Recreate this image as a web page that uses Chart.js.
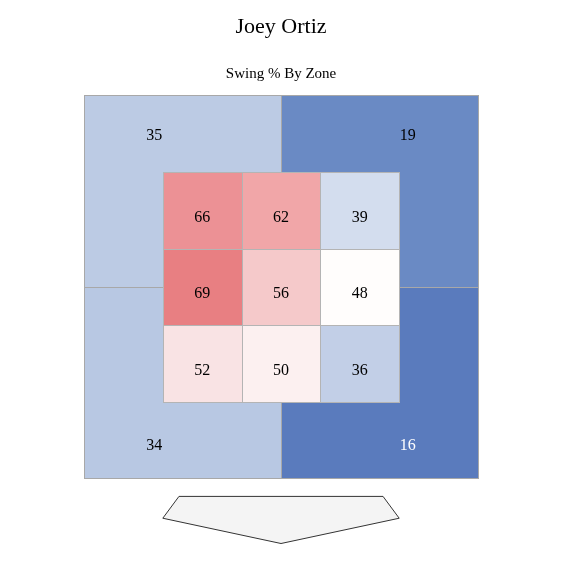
<!DOCTYPE html>
<html>
<head>
<meta charset="utf-8">
<script src="https://cdn.jsdelivr.net/npm/chart.js@4/dist/chart.umd.min.js"></script>
<style>
  html, body { margin: 0; padding: 0; background: #fff; }
  #wrap { width: 562px; height: 562px; }
</style>
</head>
<body>
<div id="wrap"><canvas id="myChart" width="562" height="562"></canvas></div>
<script>
let player = "Joey Ortiz"
let subtitle = "Swing % By Zone"

// strike zone 3x3, top row first
let zoneValues = [
  [66, 62, 39],
  [69, 56, 48],
  [52, 50, 36]
]
let zoneColors = [
  ["#ec9195", "#f1a6a8", "#d3ddee"],
  ["#e87f82", "#f5c9ca", "#fffdfc"],
  ["#f9e3e4", "#fcf0f0", "#c2cfe7"]
]

// outside quadrants: top-left, top-right, bottom-left, bottom-right
let outerValues = [35, 19, 34, 16]
let outerColors = ["#bccbe4", "#6a8ac4", "#b8c8e3", "#5a7bbd"]
let outerTextColors = ["#000", "#000", "#000", "#fff"]

// home plate outline (zone units)
let plateX = [1.0, 1.205, 3.795, 4.0, 2.5]
let plateY = [-0.52, -0.235, -0.235, -0.52, -0.85]

const serif = "'Liberation Serif', 'Times New Roman', serif"

function px(v, s) { return Math.round(s.getPixelForValue(v)) + 0.5 }

const zonePlugin = {
  id: 'zones',
  beforeDatasetsDraw(chart) {
    let ctx = chart.ctx
    let xs = chart.scales.x
    let ys = chart.scales.y
    ctx.save()
    ctx.lineWidth = 1

    // outer quadrants
    let quads = [[0, 2.5, 2.5, 5], [2.5, 5, 2.5, 5], [0, 2.5, 0, 2.5], [2.5, 5, 0, 2.5]]
    let quadLabels = [[0.89, 4.48], [4.11, 4.48], [0.89, 0.44], [4.11, 0.44]]
    quads.forEach((q, i) => {
      let x0 = px(q[0], xs), x1 = px(q[1], xs)
      let y0 = px(q[3], ys), y1 = px(q[2], ys)
      ctx.fillStyle = outerColors[i]
      ctx.fillRect(x0, y0, x1 - x0, y1 - y0)
      ctx.strokeStyle = "#a8a8a8"
      ctx.strokeRect(x0, y0, x1 - x0, y1 - y0)
    })

    // inner zone
    for (let r = 0; r < 3; r++) {
      for (let c = 0; c < 3; c++) {
        let x0 = px(1 + c, xs), x1 = px(2 + c, xs)
        let y0 = px(4 - r, ys), y1 = px(3 - r, ys)
        ctx.fillStyle = zoneColors[r][c]
        ctx.fillRect(x0, y0, x1 - x0, y1 - y0)
        ctx.strokeStyle = "#b4b4b4"
        ctx.strokeRect(x0, y0, x1 - x0, y1 - y0)
      }
    }

    // labels
    ctx.font = "16px " + serif
    ctx.textAlign = "center"
    ctx.textBaseline = "middle"
    outerValues.forEach((v, i) => {
      ctx.fillStyle = outerTextColors[i]
      ctx.fillText(v, xs.getPixelForValue(quadLabels[i][0]), ys.getPixelForValue(quadLabels[i][1]) + 1)
    })
    for (let r = 0; r < 3; r++) {
      for (let c = 0; c < 3; c++) {
        ctx.fillStyle = "#000"
        ctx.fillText(zoneValues[r][c], xs.getPixelForValue(1.5 + c), ys.getPixelForValue(3.5 - r) + 7)
      }
    }

    // home plate
    ctx.beginPath()
    plateX.forEach((x, i) => {
      let X = xs.getPixelForValue(x), Y = ys.getPixelForValue(plateY[i])
      if (i === 0) ctx.moveTo(X, Y)
      else ctx.lineTo(X, Y)
    })
    ctx.closePath()
    ctx.fillStyle = "#f4f4f4"
    ctx.fill()
    ctx.strokeStyle = "#333"
    ctx.stroke()

    ctx.restore()
  }
}

let config = {
  type: 'scatter',
  data: { datasets: [{ data: [], pointRadius: 0 }] },
  options: {
    responsive: false,
    animation: false,
    layout: { padding: { left: 84, right: 84, top: 0, bottom: 7 } },
    scales: {
      x: { type: 'linear', min: 0, max: 5, display: false },
      y: { type: 'linear', min: -1, max: 5, display: false }
    },
    plugins: {
      legend: { display: false },
      tooltip: { enabled: false },
      title: {
        display: true,
        text: player,
        color: "#000",
        font: { family: serif, size: 22, weight: 'normal' },
        padding: { top: 14, bottom: 25 }
      },
      subtitle: {
        display: true,
        text: subtitle,
        color: "#000",
        font: { family: serif, size: 15, weight: 'normal' },
        padding: { top: 0, bottom: 12 }
      }
    }
  },
  plugins: [zonePlugin]
}

let myChart = new Chart(document.getElementById('myChart'), config)
</script>
</body>
</html>
